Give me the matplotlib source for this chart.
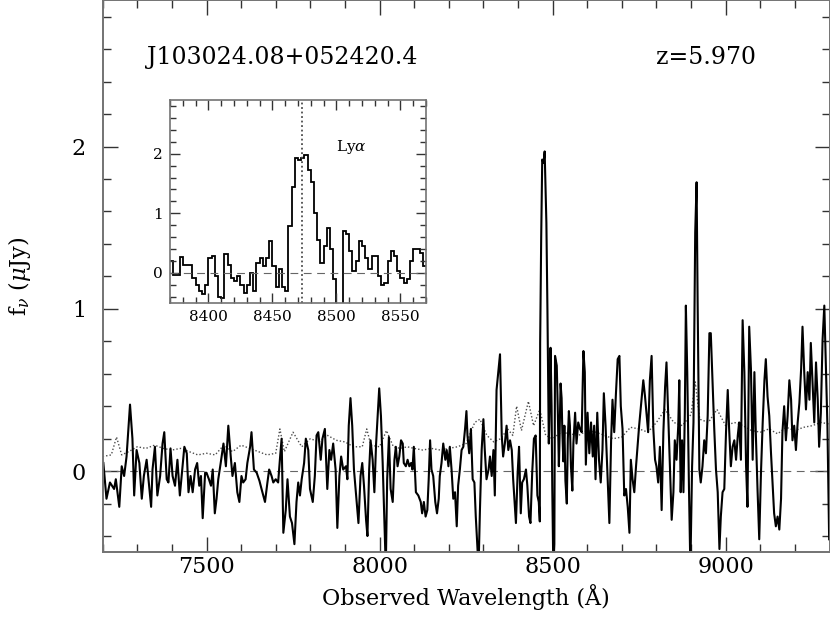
import numpy as np
import matplotlib.pyplot as plt
from matplotlib.ticker import MultipleLocator

# spectrum (wavelength in A, flux in microJy)
wave = [7202, 7211, 7221, 7233, 7238, 7248, 7255, 7262, 7269, 7279,
        7286, 7291, 7298, 7306, 7313, 7319, 7327, 7334, 7340, 7344,
        7351, 7358, 7366, 7373, 7378, 7385, 7390, 7396, 7402, 7409,
        7416, 7423, 7430, 7436, 7443, 7448, 7454, 7460, 7467, 7473,
        7479, 7484, 7489, 7496, 7500, 7507, 7513, 7518, 7524, 7529,
        7534, 7541, 7549, 7556, 7563, 7570, 7575, 7582, 7589, 7595,
        7601, 7606, 7613, 7618, 7626, 7630, 7637, 7645, 7653, 7659,
        7669, 7676, 7681, 7688, 7693, 7700, 7707, 7712, 7717, 7722,
        7729, 7734, 7741, 7747, 7754, 7760, 7765, 7770, 7775, 7782,
        7787, 7794, 7799, 7807, 7813, 7818, 7823, 7830, 7835, 7842,
        7849, 7855, 7860, 7866, 7873, 7878, 7884, 7889, 7895, 7903,
        7907, 7911, 7916, 7921, 7926, 7934, 7939, 7945, 7950, 7955,
        7961, 7965, 7970, 7974, 7980, 7985, 7990, 7994, 7999, 8004,
        8009, 8014, 8018, 8022, 8027, 8032, 8038, 8043, 8047, 8052,
        8057, 8062, 8067, 8070, 8076, 8081, 8086, 8091, 8095, 8099,
        8105, 8112, 8119, 8123, 8128, 8133, 8138, 8142, 8146, 8150,
        8155, 8161, 8166, 8171, 8174, 8179, 8184, 8190, 8194, 8199,
        8203, 8208, 8213, 8218, 8223, 8227, 8232, 8237, 8242, 8247,
        8251, 8254, 8259, 8264, 8269, 8274, 8278, 8282, 8286, 8290,
        8295, 8300, 8304, 8309, 8315, 8319, 8324, 8329, 8333, 8338,
        8343, 8348, 8353, 8357, 8362, 8367, 8372, 8377, 8382, 8386,
        8390, 8394, 8399, 8403, 8408, 8412, 8417, 8423, 8427, 8432,
        8436, 8441, 8446, 8451, 8456, 8460, 8463, 8464, 8467, 8470,
        8474, 8477, 8480, 8482, 8485, 8487, 8489, 8492, 8494, 8497,
        8499, 8502, 8505, 8507, 8512, 8515, 8518, 8520, 8523, 8526,
        8528, 8531, 8534, 8537, 8541, 8544, 8547, 8550, 8553, 8557,
        8560, 8565, 8569, 8574, 8579, 8584, 8589, 8593, 8596, 8601,
        8606, 8611, 8616, 8620, 8624, 8629, 8634, 8639, 8644, 8648,
        8653, 8658, 8664, 8669, 8673, 8678, 8683, 8688, 8693, 8697,
        8702, 8707, 8712, 8717, 8722, 8726, 8731, 8736, 8741, 8746,
        8750, 8757, 8762, 8767, 8772, 8776, 8781, 8786, 8791, 8796,
        8800, 8805, 8810, 8815, 8820, 8825, 8829, 8834, 8839, 8844,
        8849, 8853, 8858, 8863, 8866, 8870, 8874, 8878, 8882, 8885,
        8889, 8894, 8898, 8903, 8907, 8912, 8916, 8919, 8924, 8928,
        8933, 8938, 8943, 8948, 8953, 8957, 8962, 8967, 8972, 8977,
        8982, 8986, 8991, 8996, 9001, 9006, 9010, 9015, 9020, 9025,
        9030, 9035, 9039, 9044, 9049, 9054, 9059, 9063, 9068, 9073,
        9078, 9083, 9087, 9092, 9097, 9102, 9107, 9112, 9116, 9121,
        9126, 9131, 9136, 9140, 9145, 9150, 9155, 9160, 9164, 9169,
        9174, 9179, 9184, 9189, 9193, 9198, 9203, 9208, 9213, 9218,
        9222, 9227, 9232, 9237, 9242, 9246, 9251, 9256, 9261, 9266,
        9270, 9275, 9280, 9285, 9290, 9294, 9299]
flux = [0.05, -0.17, -0.07, -0.11, -0.05, -0.22, 0.03, -0.03, 0.09, 0.41,
        0.20, -0.15, 0.13, 0.05, -0.17, -0.03, 0.07, -0.09, -0.22, 0.01,
        0.15, -0.15, -0.03, 0.17, 0.24, -0.05, -0.07, 0.14, -0.03, -0.09,
        0.07, -0.15, 0.01, 0.15, 0.11, -0.13, -0.03, -0.13, 0.01, 0.05,
        -0.09, -0.03, -0.29, -0.01, -0.01, -0.05, -0.09, 0.01, -0.26, -0.17,
        -0.05, 0.05, 0.17, 0.03, 0.28, 0.09, -0.03, 0.05, -0.13, -0.19,
        -0.03, -0.07, -0.05, 0.05, 0.15, 0.24, 0.01, -0.01, -0.06, -0.11,
        -0.19, -0.07, 0.01, -0.03, -0.07, -0.05, -0.07, 0.07, 0.20, -0.38,
        -0.24, -0.05, -0.28, -0.32, -0.45, -0.19, -0.07, -0.15, -0.05, 0.05,
        0.20, 0.13, -0.11, -0.19, -0.03, 0.22, 0.24, 0.07, 0.20, 0.26,
        -0.11, 0.13, 0.07, 0.17, 0.01, -0.35, -0.03, 0.09, 0.01, 0.03,
        -0.05, 0.28, 0.45, 0.28, 0.01, -0.19, -0.32, -0.03, 0.05, -0.09,
        -0.30, -0.40, 0.01, 0.19, 0.07, -0.13, 0.17, 0.32, 0.51, 0.34,
        0.05, -0.30, -0.60, -0.05, 0.21, -0.11, -0.19, 0.07, 0.15, 0.03,
        0.09, 0.19, 0.17, 0.05, 0.03, 0.07, 0.03, 0.05, 0.01, 0.15,
        -0.13, -0.15, -0.19, -0.26, -0.19, -0.28, -0.24, -0.05, 0.19, 0.01,
        -0.03, -0.19, -0.26, -0.17, -0.03, 0.05, 0.17, 0.07, 0.13, 0.03,
        0.15, 0.01, -0.17, -0.13, -0.34, -0.09, 0.01, 0.13, 0.15, 0.26,
        0.37, 0.22, 0.11, 0.26, -0.05, -0.07, -0.28, -0.44, -0.60, -0.24,
        0.13, 0.32, 0.13, -0.05, 0.01, 0.09, -0.03, 0.13, -0.15, 0.50,
        0.61, 0.72, 0.22, 0.09, 0.17, 0.28, 0.13, 0.19, 0.13, -0.05,
        -0.19, -0.32, -0.01, 0.15, -0.26, -0.07, -0.05, 0.01, -0.09, -0.28,
        -0.32, -0.01, 0.20, 0.22, -0.15, -0.19, -0.31, 0.79, 1.44, 1.92,
        1.90, 1.97, 1.72, 1.53, 1.00, 0.55, 0.17, 0.45, 0.76, 0.40,
        -0.10, -0.60, -0.45, 0.71, 0.65, 0.37, 0.03, 0.20, 0.54, 0.45,
        0.25, 0.06, 0.28, -0.06, -0.20, 0.20, 0.37, 0.28, 0.03, -0.12,
        0.17, 0.36, 0.17, 0.30, 0.26, 0.24, 0.74, 0.61, 0.04, 0.36,
        0.11, 0.30, 0.09, 0.28, -0.05, 0.36, 0.07, -0.07, 0.13, 0.48,
        0.28, 0.01, -0.32, 0.19, 0.44, 0.24, 0.48, 0.69, 0.71, 0.40,
        0.26, -0.15, -0.11, -0.22, -0.38, 0.07, -0.05, -0.13, 0.03, 0.17,
        0.28, 0.44, 0.56, 0.46, 0.34, 0.24, 0.56, 0.71, 0.26, 0.07,
        0.03, -0.07, 0.15, -0.24, 0.24, 0.52, 0.67, 0.34, -0.01, -0.30,
        -0.13, 0.19, 0.07, 0.28, 0.56, -0.13, 0.19, -0.13, 0.36, 1.02,
        0.61, -0.11, -0.60, 0.03, 0.30, 1.47, 1.78, 1.04, 0.01, -0.07,
        0.03, 0.19, 0.11, 0.34, 0.85, 0.85, 0.56, 0.26, 0.01, -0.13,
        -0.48, -0.28, -0.13, -0.11, 0.24, 0.50, 0.26, 0.03, 0.15, 0.19,
        0.07, 0.22, 0.30, 0.07, 0.93, 0.61, 0.03, -0.22, 0.89, 0.63,
        0.07, 0.61, 0.24, -0.11, -0.42, -0.01, 0.30, 0.56, 0.69, 0.46,
        0.34, 0.11, -0.09, -0.26, -0.34, -0.28, -0.36, -0.17, 0.24, 0.40,
        0.19, 0.34, 0.56, 0.44, 0.19, 0.28, 0.13, 0.30, 0.42, 0.63,
        0.89, 0.61, 0.38, 0.61, 0.44, 0.79, 0.54, 0.30, 0.67, 0.44,
        0.15, 0.36, 0.81, 1.02, 0.61, 0.28, -0.42]

# 1-sigma error spectrum (dotted)
noise_wave = [7200, 7225, 7240, 7255, 7275, 7300, 7325, 7350, 7375, 7400,
              7425, 7450, 7475, 7500, 7525, 7550, 7575, 7600, 7625, 7650,
              7675, 7700, 7712, 7725, 7750, 7775, 7800, 7825, 7850, 7875,
              7900, 7925, 7950, 7963, 7975, 8000, 8020, 8040, 8060, 8080,
              8100, 8125, 8150, 8175, 8200, 8225, 8250, 8275, 8290, 8310,
              8330, 8350, 8370, 8385, 8396, 8410, 8430, 8445, 8463, 8480,
              8500, 8525, 8550, 8575, 8600, 8625, 8650, 8675, 8700, 8725,
              8750, 8775, 8800, 8825, 8850, 8875, 8900, 8912, 8925, 8950,
              8975, 9000, 9025, 9050, 9075, 9100, 9125, 9150, 9175, 9200,
              9225, 9250, 9275, 9300]
noise_flux = [0.09, 0.10, 0.21, 0.10, 0.12, 0.15, 0.14, 0.16, 0.14, 0.13,
              0.14, 0.12, 0.10, 0.11, 0.10, 0.16, 0.12, 0.16, 0.14, 0.12,
              0.10, 0.11, 0.26, 0.12, 0.24, 0.15, 0.20, 0.18, 0.22, 0.19,
              0.18, 0.15, 0.15, 0.26, 0.16, 0.15, 0.25, 0.15, 0.14, 0.15,
              0.14, 0.13, 0.14, 0.13, 0.14, 0.15, 0.17, 0.30, 0.32, 0.22,
              0.18, 0.20, 0.26, 0.22, 0.40, 0.25, 0.43, 0.28, 0.38, 0.22,
              0.20, 0.24, 0.23, 0.22, 0.25, 0.24, 0.22, 0.20, 0.21, 0.27,
              0.26, 0.24, 0.30, 0.38, 0.30, 0.28, 0.35, 0.55, 0.32, 0.30,
              0.38, 0.28, 0.30, 0.28, 0.25, 0.24, 0.26, 0.23, 0.27, 0.25,
              0.27, 0.28, 0.30, 0.29]

# zoom on the Lya line, 2.5 A bins starting at 8370 A
inset_start = 8370.0
inset_bin = 2.5
inset_flux = [0.20, -0.03, -0.03, 0.27, 0.14, 0.14, 0.14, -0.08, -0.20, -0.30,
              -0.35, -0.20, 0.25, 0.28, -0.05, -0.40, -0.42, 0.31, 0.14, -0.08,
              -0.14, -0.06, -0.20, -0.34, -0.20, 0.00, -0.30, 0.17, 0.25, 0.11,
              0.25, 0.54, 0.11, -0.23, 0.06, -0.23, -0.31, 0.79, 1.44, 1.92,
              1.90, 1.92, 1.97, 1.72, 1.53, 1.00, 0.55, 0.17, 0.45, 0.76,
              0.40, -0.10, -0.60, -0.55, 0.71, 0.65, 0.37, 0.03, 0.20, 0.54,
              0.45, 0.25, 0.06, 0.28, 0.28, -0.06, -0.20, -0.17, 0.20, 0.37,
              0.28, 0.03, -0.08, -0.17, -0.11, 0.20, 0.40, 0.40, 0.34, 0.11]

name = 'J103024.08+052420.4'
redshift = 5.970
lya_wave = 1215.67 * (1 + redshift)

plt.rcParams['font.family'] = 'DejaVu Serif'
plt.rcParams['mathtext.fontset'] = 'dejavuserif'

fig = plt.figure(figsize=(8.30, 6.19), dpi=100)
ax = fig.add_axes([0.1237, 0.1078, 0.8757, 0.8914])

ax.axhline(0, color='0.4', lw=0.8, ls=(0, (7, 5)))
ax.plot(noise_wave, noise_flux, color='0.3', lw=1.0, ls=(0, (1, 1.5)))
ax.plot(wave, flux, color='k', lw=1.5)

ax.set_xlim(7200, 9300)
ax.set_ylim(-0.5, 2.9)
ax.xaxis.set_major_locator(MultipleLocator(500))
ax.xaxis.set_minor_locator(MultipleLocator(100))
ax.yaxis.set_major_locator(MultipleLocator(1))
ax.yaxis.set_minor_locator(MultipleLocator(0.2))
ax.tick_params(which='both', direction='in', top=True, right=True,
               labelsize=16, width=1, color='0.2')
ax.tick_params(which='major', length=11)
ax.tick_params(which='minor', length=6)
ax.tick_params(axis='x', which='major', pad=3)
ax.tick_params(axis='y', which='major', pad=12)
for s in ax.spines.values():
    s.set_color('0.45')
    s.set_linewidth(1.4)

ax.set_xlabel('Observed Wavelength (Å)', fontsize=16, labelpad=4)
ax.set_ylabel(r'f$_\nu$ ($\mu$Jy)', fontsize=16, labelpad=28)

ax.text(7718, 2.55, name, fontsize=17, ha='center', va='center')
ax.text(8943, 2.55, 'z=%.3f' % redshift, fontsize=17, ha='center', va='center')

# inset
ax2 = fig.add_axes([0.2048, 0.5110, 0.3084, 0.3274])
edges = inset_start + inset_bin * np.arange(len(inset_flux) + 1)
ax2.axhline(0, color='0.4', lw=0.8, ls=(0, (7, 5)))
ax2.axvline(lya_wave, color='0.3', lw=1.3, ls=(0, (1, 1.5)))
ax2.stairs(inset_flux, edges, baseline=None, color='k', lw=1.3)
ax2.set_xlim(8370, 8570)
ax2.set_ylim(-0.5, 2.9)
ax2.xaxis.set_major_locator(MultipleLocator(50))
ax2.xaxis.set_minor_locator(MultipleLocator(10))
ax2.yaxis.set_major_locator(MultipleLocator(1))
ax2.yaxis.set_minor_locator(MultipleLocator(0.2))
ax2.tick_params(which='both', direction='in', top=True, right=True,
                labelsize=11, width=1, color='0.2')
ax2.tick_params(which='major', length=7, pad=5)
ax2.tick_params(which='minor', length=4)
for s in ax2.spines.values():
    s.set_color('0.45')
    s.set_linewidth(1.2)
ax2.text(8512, 2.12, r'Ly$\alpha$', fontsize=11, ha='center', va='center')

fig.savefig('out.png', dpi=100)
